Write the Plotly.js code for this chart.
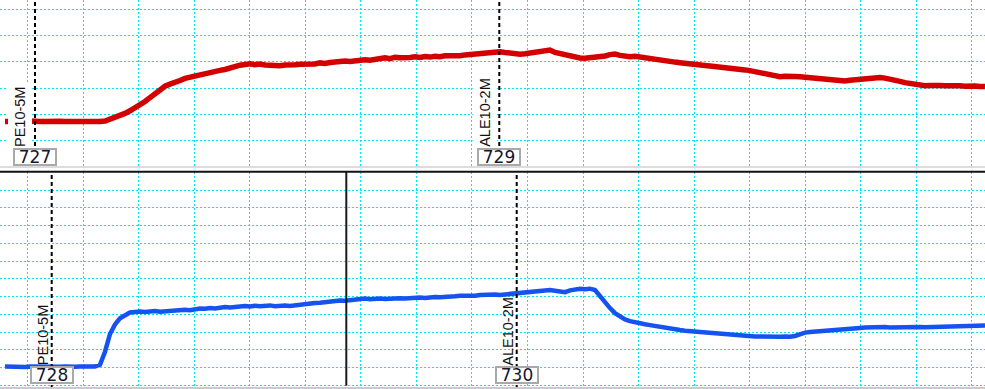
<!DOCTYPE html>
<html>
<head>
<meta charset="utf-8">
<script src="https://cdn.plot.ly/plotly-3.0.1.min.js"></script>
<style>html,body{margin:0;padding:0;background:#fff;}#chart{width:985px;height:389px;}</style>
</head>
<body>
<div id="chart"></div>
<script>
// Sample spacing (time units) and first sample
const sampleStart = 5;
const sampleStep = 5;

// Upper channel (red) signal level
const redSignal = [
 45.6, 45.3, 45.8, 45.4, 45.5, 46.0, 45.2, 45.6, 45.4, 45.9,
 45.3, 45.7, 45.5, 45.1, 45.8, 45.4, 45.6, 45.3, 45.9, 45.5,
 46.0, 47.6, 49.5, 51.8, 53.6, 56.2, 58.8, 61.9, 65.5, 69.4,
 73.6, 77.4, 80.8, 82.9, 84.2, 86.5, 88.6, 89.9, 91.4, 92.2,
 93.6, 94.3, 95.8, 96.6, 97.5, 99.2, 100.6, 101.8, 102.5, 103.2,
 102.4, 103.0, 102.1, 101.6, 102.3, 101.2, 101.9, 101.4, 102.2, 102.8,
 102.5, 103.3, 103.0, 104.1, 103.6, 104.5, 105.2, 104.8, 106.0, 105.6,
 106.4, 106.1, 107.2, 106.8, 108.0, 108.6, 109.1, 108.4, 109.8, 109.3,
 108.8, 109.6, 110.2, 109.5, 110.4, 109.9, 110.8, 110.3, 111.2, 111.0,
 111.6, 111.2, 112.1, 112.6, 112.2, 113.0, 113.6, 114.1, 114.6, 115.2,
 114.5, 113.8, 113.4, 112.8, 113.2, 113.9, 114.6, 114.2, 115.3, 116.9,
 114.6, 113.3, 112.4, 111.1, 110.2, 109.0, 108.7, 109.2, 108.9, 109.8,
 111.0, 112.4, 112.9, 111.6, 110.6, 110.2, 110.8, 109.9, 109.4, 108.6,
 107.8, 107.2, 106.0, 105.4, 104.9, 104.3, 104.0, 103.4, 102.8, 102.0,
 101.5, 101.0, 100.6, 100.1, 99.5, 99.0, 98.4, 97.7, 97.1, 96.4,
 95.2, 94.0, 92.9, 91.8, 91.0, 90.3, 90.8, 90.1, 90.6, 90.2,
 89.6, 89.2, 88.8, 88.5, 87.9, 87.2, 86.6, 86.4, 86.1, 86.8,
 87.2, 87.5, 88.3, 89.2, 89.8, 89.4, 88.9, 88.2, 87.1, 85.6,
 84.4, 83.3, 82.6, 81.8, 81.2, 81.6, 81.0, 81.4, 81.2, 81.5,
 81.1, 81.3, 80.8, 81.2, 80.9, 80.6, 80.4
];

// Lower channel (blue) signal level
const blueSignal = [
 22.4, 22.1, 22.5, 22.3, 22.0, 22.4, 22.2, 22.6, 22.3, 22.1,
 22.5, 22.2, 22.4, 22.0, 22.3, 22.6, 22.2, 22.4, 22.5, 24.2,
 37.3, 55.0, 64.6, 70.7, 74.2, 76.5, 77.1, 77.6, 76.9, 77.4,
 77.9, 77.2, 77.8, 78.4, 77.9, 78.6, 79.3, 78.8, 79.7, 80.5,
 80.2, 81.0, 80.6, 81.5, 82.0, 81.6, 82.4, 82.1, 82.9, 82.6,
 83.3, 82.8, 83.1, 83.6, 82.7, 83.2, 83.5, 83.0, 83.8, 84.2,
 84.7, 85.1, 85.9, 86.2, 86.9, 87.4, 87.8, 88.5, 88.2, 88.9,
 89.3, 89.8, 90.4, 89.7, 90.2, 90.6, 89.9, 90.5, 90.1, 90.7,
 90.4, 91.0, 90.6, 91.4, 90.9, 91.6, 92.1, 91.7, 92.4, 92.2,
 92.8, 93.3, 92.9, 93.6, 93.2, 93.9, 94.3, 93.8, 94.5, 94.1,
 94.6, 95.2, 94.9, 95.6, 96.4, 97.2, 96.8, 97.9, 98.4, 98.9,
 98.3, 97.4, 96.8, 98.6, 99.7, 100.2, 99.8, 100.3, 98.9, 92.5,
 86.6, 80.9, 75.8, 72.6, 69.6, 67.9, 66.6, 65.6, 64.8, 63.9,
 62.9, 62.2, 61.4, 60.6, 59.8, 59.0, 58.3, 57.9, 57.4, 56.8,
 56.3, 55.6, 55.1, 54.5, 54.0, 53.8, 53.5, 53.3, 52.8, 52.9,
 52.6, 52.4, 52.2, 52.5, 52.1, 52.3, 52.6, 52.2, 53.0, 55.2,
 56.4, 57.1, 57.4, 57.9, 58.3, 58.6, 58.9, 59.3, 59.8, 60.2,
 60.6, 61.1, 61.6, 61.9, 61.5, 61.8, 62.0, 61.6, 61.8, 61.5,
 61.9, 61.6, 61.8, 62.0, 61.7, 61.9, 62.2, 62.0, 62.4, 62.3,
 62.6, 62.9, 63.1, 63.4, 63.2, 63.5, 63.4
];

// Event markers
const markerNames = ['PE10-5M', 'ALE10-2M'];
const topMarkerX = [35, 499.3];
const topMarkerIds = ['727', '729'];
const bottomMarkerX = [51.7, 516.7];
const bottomMarkerIds = ['728', '730'];
const cursorX = 346.3;

const gridColor = 'rgb(0,232,242)';
const gridDash = '2px,2px';

function xAxis(anchor) {
  return {
    domain: [0, 1], range: [0, 985], anchor: anchor,
    showticklabels: false, ticks: '', zeroline: false, showline: false,
    showgrid: true, gridcolor: gridColor, griddash: gridDash, gridwidth: 1,
    tick0: 27.7, dtick: 55.53, fixedrange: true
  };
}

const traces = [
  { type: 'scatter', mode: 'lines', x0: sampleStart, dx: sampleStep, y: redSignal,
    xaxis: 'x', yaxis: 'y', line: { color: '#d40000', width: 5.5 }, hoverinfo: 'skip' },
  { type: 'scatter', mode: 'lines', x0: sampleStart, dx: sampleStep, y: blueSignal,
    xaxis: 'x2', yaxis: 'y2', line: { color: '#1652f0', width: 4.5 }, hoverinfo: 'skip' }
];

const shapes = [];
const annotations = [];

const labelFont = { family: 'Liberation Sans, Arial, sans-serif', size: 14.5, color: '#111' };
const idFont = { family: 'DejaVu Sans, Verdana, sans-serif', size: 17, color: '#15152e' };

function addMarker(xv, name, id, xr, yr, labelBottomY, boxY, pad, xs, bg) {
  shapes.push({ type: 'line', xref: xr, yref: yr + ' domain', x0: xv, x1: xv, y0: 0, y1: 1,
    line: { color: '#000', width: 2, dash: '4px,3px' }, layer: 'above' });
  annotations.push({ xref: xr, yref: yr, x: xv, y: labelBottomY, text: name, showarrow: false,
    textangle: -90, xanchor: 'right', yanchor: 'bottom', font: labelFont, xshift: xs,
    bgcolor: bg, borderpad: pad, borderwidth: 0 });
  annotations.push({ xref: xr, yref: yr, x: xv, y: boxY, text: id, showarrow: false,
    xanchor: 'center', yanchor: 'middle', font: idFont, bgcolor: '#ffffff',
    bordercolor: '#a9a9a9', borderwidth: 2, borderpad: 0, width: 40, height: 14 });
}

for (let i = 0; i < markerNames.length; i++) {
  addMarker(topMarkerX[i], markerNames[i], topMarkerIds[i], 'x', 'y', 16, 10.3, 4, -3, '#ffffff');
  addMarker(bottomMarkerX[i], markerNames[i], bottomMarkerIds[i], 'x2', 'y2', 22.5, 14.5, 1, 0, 'rgba(0,0,0,0)');
}

// cursor line
shapes.push({ type: 'line', xref: 'x2', yref: 'y2 domain', x0: cursorX, x1: cursorX, y0: 0.015, y1: 1,
  line: { color: '#1a1a1a', width: 2 }, layer: 'above' });
// panel borders
shapes.push({ type: 'line', xref: 'paper', yref: 'paper', x0: 0, x1: 1, y0: 1 - 167/389, y1: 1 - 167/389,
  line: { color: '#dcdcdc', width: 2 }, layer: 'above' });
shapes.push({ type: 'line', xref: 'paper', yref: 'paper', x0: 0, x1: 1, y0: 1 - 171.8/389, y1: 1 - 171.8/389,
  line: { color: '#111', width: 2 }, layer: 'above' });
shapes.push({ type: 'line', xref: 'paper', yref: 'paper', x0: 0, x1: 1, y0: 1 - 388/389, y1: 1 - 388/389,
  line: { color: '#c9c9c9', width: 2 }, layer: 'above' });

const layout = {
  width: 985, height: 389,
  margin: { l: 0, r: 0, t: 0, b: 0, pad: 0 },
  paper_bgcolor: '#ffffff', plot_bgcolor: '#ffffff',
  showlegend: false,
  xaxis: xAxis('y'),
  xaxis2: xAxis('y2'),
  yaxis: { domain: [1 - 167/389, 1], range: [0, 167], anchor: 'x',
    showticklabels: false, ticks: '', zeroline: false, showline: false,
    showgrid: true, gridcolor: gridColor, griddash: gridDash, gridwidth: 1,
    tick0: 0, dtick: 26.28, fixedrange: true },
  yaxis2: { domain: [0, 1 - 172/389], range: [0, 217], anchor: 'x2',
    showticklabels: false, ticks: '', zeroline: false, showline: false,
    showgrid: true, gridcolor: gridColor, griddash: gridDash, gridwidth: 1,
    tick0: 3.53, dtick: 17.77, fixedrange: true },
  shapes: shapes,
  annotations: annotations
};

Plotly.newPlot('chart', traces, layout, { staticPlot: true, displayModeBar: false });
</script>
</body>
</html>
